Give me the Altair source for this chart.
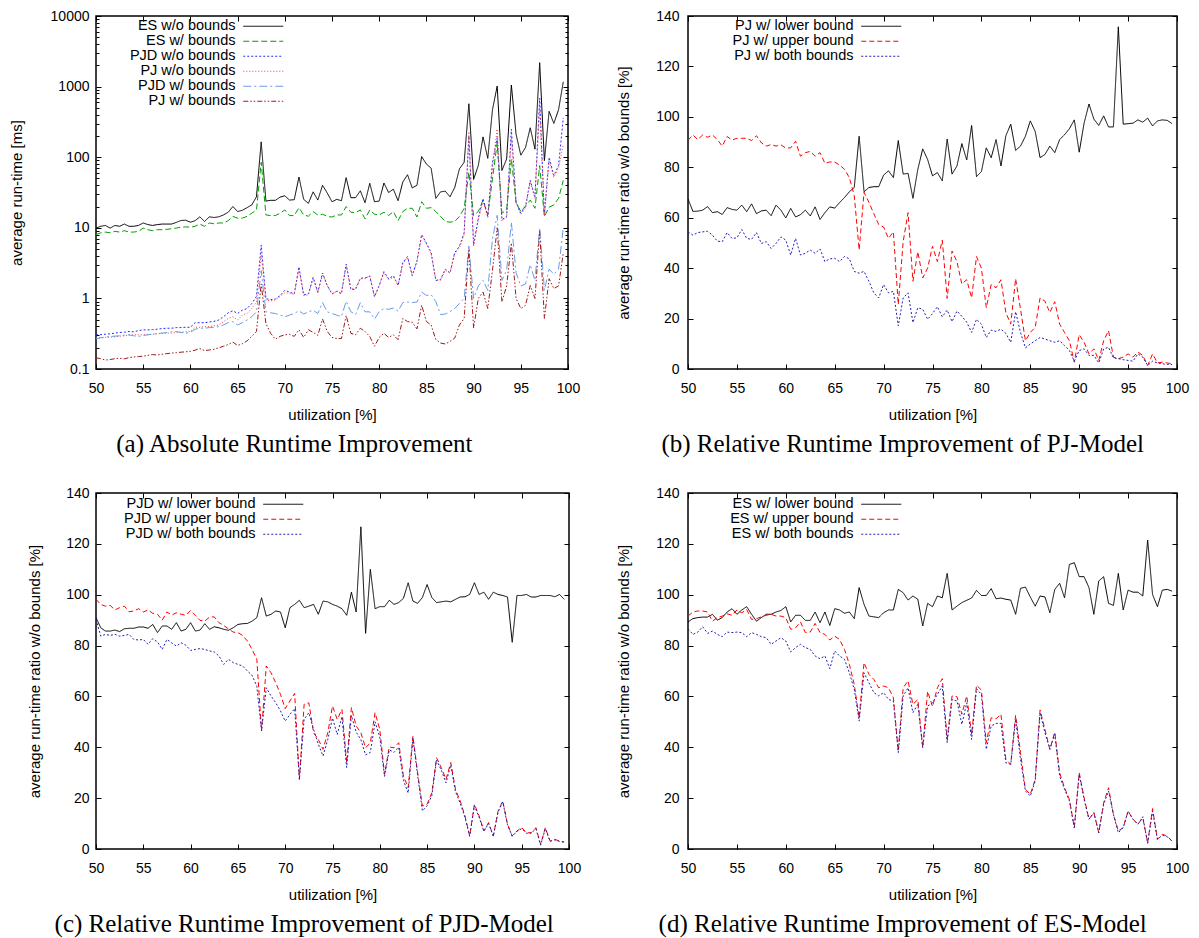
import altair as alt
import pandas as pd

UTIL = [50 + 0.5 * i for i in range(100)]
X_TICKS = [50, 55, 60, 65, 70, 75, 80, 85, 90, 95, 100]
Y_TICKS_LIN = [0, 20, 40, 60, 80, 100, 120, 140]
Y_MAJOR_LOG = [0.1, 1, 10, 100, 1000, 10000]
Y_ALL_LOG = [0.1, 0.2, 0.3, 0.4, 0.5, 0.6, 0.7, 0.8, 0.9,
             1, 2, 3, 4, 5, 6, 7, 8, 9,
             10, 20, 30, 40, 50, 60, 70, 80, 90,
             100, 200, 300, 400, 500, 600, 700, 800, 900,
             1000, 2000, 3000, 4000, 5000, 6000, 7000, 8000, 9000, 10000]

# ---------------- (a) absolute run-time [ms] ----------------
A_NAMES = ["ES w/o bounds", "ES w/ bounds", "PJD w/o bounds", "PJ w/o bounds",
           "PJD w/ bounds", "PJ w/ bounds"]
A_ES_WO = [9.9, 10.5, 10.8, 9.9, 10.8, 10.5, 11.3, 10.5, 10.5, 10.8,
           11.7, 11.1, 10.8, 11.1, 11.3, 11.3, 11.3, 11.9, 12.7, 12.8,
           12.0, 12.6, 14.3, 12.3, 14.3, 14.0, 14.3, 15.2, 16.6, 20.0,
           17.0, 17.7, 19.3, 21.1, 27.5, 165, 23.9, 24.5, 24.5, 27.2,
           28.4, 24.7, 25.0, 52.4, 25.3, 22.2, 32.3, 24.7, 40, 31,
           23.4, 25.3, 24.2, 51.3, 26.7, 26.7, 33.4, 22.7, 42.7, 23.4,
           23.9, 43.1, 31.6, 35.2, 24.2, 44.6, 56.4, 36.7, 40, 102,
           80, 70, 26.1, 32.3, 33, 27.5, 37.2, 68.4, 84.8, 571,
           48.5, 76.3, 194, 96.3, 471, 1018, 64.9, 94.4, 1052, 211,
           107, 137, 261, 130, 2182, 89.5, 446, 301, 471, 1172]
A_ES_W = [8.0, 8.5, 8.7, 8.5, 8.9, 8.7, 9.1, 8.7, 8.7, 8.9,
          9.9, 9.4, 9.1, 9.4, 9.4, 9.5, 9.7, 9.9, 10.2, 10.3,
          10.2, 10.5, 11.3, 10.5, 11.7, 11.4, 11.7, 11.7, 12.6, 14.5,
          13.7, 13.7, 14.5, 16.1, 17.9, 84.8, 15.2, 14.9, 14.9, 16.1,
          17.9, 14.9, 14.9, 19.3, 15.2, 14.6, 17.0, 15.2, 15.6, 14.5,
          14.2, 15.2, 15.2, 20.0, 16.6, 16.4, 17.9, 13.4, 17.9, 15.6,
          15.2, 16.6, 14.9, 17.0, 12.6, 17.0, 18.9, 18.9, 14.2, 23.4,
          18.9, 19.3, 17.0, 14.5, 12.3, 12.0, 12.3, 14.5, 18.9, 61.5,
          14.9, 17.0, 24.7, 15.2, 49.6, 161, 16.1, 17.9, 94.4, 22.7,
          17.0, 20.4, 24.7, 18.9, 76.3, 14.5, 19.6, 21.1, 26.1, 47]
A_PJD_WO = [0.305, 0.307, 0.311, 0.315, 0.322, 0.329, 0.332, 0.34, 0.336, 0.35,
            0.358, 0.358, 0.362, 0.366, 0.374, 0.378, 0.378, 0.386, 0.386, 0.39,
            0.39, 0.453, 0.453, 0.453, 0.463, 0.473, 0.494, 0.55, 0.625, 0.667,
            0.612, 0.681, 0.719, 0.844, 1.07, 5.69, 0.99, 0.96, 0.98, 1.10,
            1.30, 1.23, 1.16, 2.80, 1.12, 1.16, 1.99, 1.23, 2.29, 1.52,
            1.16, 1.26, 1.16, 3.06, 1.34, 1.34, 1.93, 1.95, 2.06, 1.05,
            1.52, 2.39, 1.89, 2.10, 1.52, 3.22, 3.91, 2.10, 3.40, 8.0,
            6.1, 4.45, 1.79, 1.85, 2.6, 2.29, 4.45, 5.5, 8.5, 200,
            5.7, 13.7, 26, 14.5, 84.8, 189, 13, 14.5, 250, 23.4,
            16.1, 20, 47, 27.5, 686, 15.2, 99.5, 55, 76, 360]
A_PJ_WO = [0.274, 0.277, 0.28, 0.283, 0.286, 0.292, 0.295, 0.302, 0.305, 0.305,
           0.305, 0.308, 0.311, 0.315, 0.318, 0.322, 0.322, 0.329, 0.332, 0.336,
           0.34, 0.39, 0.39, 0.398, 0.398, 0.41, 0.42, 0.468, 0.52, 0.55,
           0.494, 0.58, 0.612, 0.719, 0.89, 4.2, 0.94, 0.92, 0.95, 1.06,
           1.2, 1.18, 1.14, 2.6, 1.1, 1.12, 1.9, 1.2, 2.2, 1.5,
           1.15, 1.28, 1.2, 2.9, 1.38, 1.4, 1.9, 1.9, 2.1, 1.08,
           1.5, 2.3, 1.85, 2.0, 1.55, 3.1, 3.8, 2.1, 3.3, 7.8,
           5.9, 4.3, 1.85, 1.8, 2.5, 2.3, 4.3, 5.2, 8.0, 230,
           5.5, 13, 24, 14, 70, 250, 12.5, 14, 190, 22,
           15.5, 19, 45, 26, 500, 14.5, 90, 52, 70, 150]
A_PJD_W = [0.268, 0.277, 0.283, 0.289, 0.292, 0.295, 0.302, 0.305, 0.295, 0.289,
           0.298, 0.305, 0.311, 0.318, 0.322, 0.329, 0.336, 0.34, 0.329, 0.322,
           0.329, 0.366, 0.378, 0.378, 0.386, 0.39, 0.398, 0.42, 0.453, 0.468,
           0.42, 0.453, 0.494, 0.55, 0.645, 2.47, 0.645, 0.625, 0.612, 0.58,
           0.55, 0.58, 0.612, 0.667, 0.6, 0.646, 0.68, 0.61, 0.87, 0.646,
           0.61, 0.58, 0.55, 0.91, 0.646, 0.59, 0.87, 0.646, 0.646, 0.51,
           0.646, 0.72, 0.70, 0.73, 0.66, 0.87, 0.89, 0.87, 0.89, 1.23,
           1.10, 1.13, 0.9, 0.59, 0.6, 0.65, 0.72, 0.85, 1.0, 5.5,
           1.0, 1.5, 1.8, 1.3, 7, 15, 1.8, 2.5, 12, 2.3,
           1.5, 1.6, 3.0, 1.8, 10, 1.3, 2.6, 2.2, 2.6, 10]
A_PJ_W = [0.144, 0.14, 0.134, 0.136, 0.14, 0.142, 0.139, 0.145, 0.148, 0.15,
          0.152, 0.156, 0.16, 0.158, 0.162, 0.165, 0.168, 0.17, 0.173, 0.175,
          0.178, 0.185, 0.195, 0.182, 0.186, 0.19, 0.2, 0.21, 0.222, 0.24,
          0.215, 0.228, 0.25, 0.29, 0.34, 1.6, 0.44, 0.32, 0.265, 0.29,
          0.305, 0.31, 0.29, 0.36, 0.28, 0.36, 0.33, 0.3, 0.51, 0.34,
          0.28, 0.27, 0.27, 0.57, 0.32, 0.305, 0.378, 0.34, 0.289, 0.21,
          0.28, 0.32, 0.28, 0.305, 0.26, 0.52, 0.47, 0.46, 0.37, 0.80,
          0.47, 0.42, 0.26, 0.233, 0.226, 0.246, 0.274, 0.421, 0.52, 5.0,
          0.38, 1.0, 1.23, 0.72, 2.5, 10, 0.89, 1.5, 6.1, 1.0,
          0.72, 0.8, 1.52, 1.0, 8.9, 0.52, 1.9, 1.38, 1.5, 4.4]
A_COLORS = ["#000000", "#00a000", "#2a2aff", "#ff3b3b", "#6a9ae8", "#a01818"]
A_DASHES = [[1, 0], [6, 3], [2, 2], [1, 2], [8, 3, 2, 3], [5, 2, 1.5, 2, 1.5, 2]]

# ---------------- (b) PJ model ----------------
B_NAMES = ["PJ w/ lower bound", "PJ w/ upper bound", "PJ w/ both bounds"]
B_LOWER = [67.5, 62.5, 62.6, 63, 64.4, 62, 62.4, 61.3, 64, 63.3,
           63, 65, 62.4, 65.5, 61.6, 62.7, 63, 60.8, 65, 63,
           59.9, 63.7, 60.3, 61.2, 63, 60.7, 64.3, 59.3, 62, 64.3,
           63.8, 66, 68, 70.3, 72, 92.3, 70.3, 72, 72.3, 72.3,
           76.9, 78.6, 75.9, 90.6, 77.3, 77.6, 67.7, 79.2, 87.3, 83.1,
           76.6, 77.9, 74.6, 91.2, 77.3, 80.5, 89.4, 82.9, 96.6, 76.3,
           78.3, 87.7, 83.8, 91, 80.5, 92.5, 97.1, 86.7, 88.4, 92.3,
           98.4, 94.2, 83.8, 85.1, 88.4, 85.8, 91, 92.9, 95.3, 98.8,
           86, 97.5, 105.1, 99.1, 96.6, 100.4, 96, 96, 135.7, 97.1,
           97.3, 97.5, 98.8, 97.9, 99.5, 96.4, 98.4, 98.8, 98.6, 97.3]
B_UPPER = [90.7, 92.8, 91.0, 92.8, 91.9, 92.8, 91.0, 88.4, 92.2, 90.8,
           91.5, 91.5, 91.5, 90.6, 92.5, 89.7, 88.4, 89.0, 88.4, 88.9,
           87.6, 87.7, 90.3, 84.4, 85.8, 86.3, 84.4, 85.8, 81.6, 82.1,
           82.1, 80.9, 79.2, 75.9, 68.8, 47.2, 70.1, 66.1, 61.6, 57.3,
           56.3, 51.8, 54.4, 25.6, 50.5, 62.0, 34.8, 46.5, 36.1, 40.0,
           48.7, 42.6, 51.1, 28.0, 46.8, 42.6, 33.7, 35.4, 28.2, 44.6,
           40.0, 24.3, 33.5, 32.2, 35.4, 22.4, 17.8, 35.8, 23.7, 11.2,
           14.5, 16.5, 28.2, 26.9, 22.4, 26.7, 17.8, 14.5, 11.2, 2.7,
           13.6, 10.6, 6.0, 8.0, 3.4, 11.2, 15.2, 4.7, 4.1, 4.7,
           6.0, 4.7, 6.7, 5.4, 1.4, 6.0, 2.4, 2.7, 2.4, 2.1]
B_BOTH = [54.4, 53.1, 54.1, 54.4, 54.6, 53.1, 50.7, 50.5, 54.1, 51.8,
          52.0, 55.3, 51.8, 51.4, 54.1, 49.8, 50.5, 47.8, 49.8, 52.4,
          51.1, 45.2, 51.8, 45.2, 45.9, 47.2, 45.9, 47.6, 42.6, 43.7,
          43.9, 42.6, 44.6, 43.7, 38.7, 38.0, 38.7, 34.8, 30.2, 28.2,
          33.5, 30.2, 30.8, 17.1, 28.2, 30.2, 18.4, 24.3, 23.7, 19.7,
          22.0, 24.7, 20.7, 23.4, 18.8, 23.0, 20.9, 18.6, 14.5, 19.7,
          17.8, 12.5, 15.4, 14.9, 15.8, 14.1, 10.6, 22.7, 14.5, 8.4,
          9.9, 11.2, 12.5, 11.9, 11.2, 10.6, 11.2, 9.3, 7.3, 3.1,
          7.3, 8.0, 5.4, 5.4, 2.4, 8.0, 8.6, 4.4, 4.1, 3.7,
          3.4, 3.1, 6.0, 4.7, 1.4, 3.1, 2.4, 2.1, 1.8, 1.8]

# ---------------- (c) PJD model ----------------
C_NAMES = ["PJD w/ lower bound", "PJD w/ upper bound", "PJD w/ both bounds"]
C_LOWER = [91, 87, 85.7, 85.7, 86.1, 85.5, 86.6, 86.8, 86.8, 87.3,
           87.3, 86.8, 88.3, 85.1, 87.7, 87.7, 86.4, 89, 85.7, 86.4,
           89, 85.7, 86.1, 88.6, 86.4, 87.4, 87.0, 86.4, 86.0, 87.0,
           88.3, 88.6, 88.7, 89.6, 91, 98.8, 91.6, 92.3, 93.6, 93.2,
           87, 94.9, 96.2, 97.8, 94.9, 95.5, 96.2, 92.3, 97.5, 97.2,
           96.2, 95.5, 94.5, 91.9, 101, 93.2, 126.7, 84.8, 110, 94.5,
           95.3, 95.3, 97.8, 96.2, 96.9, 98.6, 104.7, 97.5, 96.6, 98.9,
           104, 98.9, 96.9, 97.2, 97.5, 97.2, 98.2, 99.1, 99.2, 100.1,
           104.7, 100.1, 101, 98.2, 101, 100.1, 99.7, 99.1, 81.3, 99.7,
           99.7, 100.1, 99.1, 99.1, 99.7, 99.7, 99.7, 99.2, 100.1, 98.2]
C_UPPER = [98.2, 96.2, 95.5, 95.8, 94, 94.9, 95.5, 93.3, 93.6, 94.5,
           93.2, 94, 92.7, 92.3, 90, 93.2, 92, 92.9, 92.3, 91.9,
           93.8, 91.9, 89.9, 89.6, 91.2, 91.3, 89, 87.9, 86.6, 85.3,
           85.1, 84, 81.8, 78.5, 74.6, 46.4, 72, 69.3, 65.4, 60.8,
           55.2, 58.2, 61.2, 27.4, 56.9, 57.5, 45.7, 43.1, 39.2, 45.7,
           56.2, 51, 54.9, 34, 55.6, 48.4, 45.7, 39.8, 41.8, 53.6,
           47, 29.4, 40.1, 39.8, 41.8, 28.7, 24.1, 44.4, 30, 16.9,
           17.6, 22.1, 35.9, 32, 27.4, 34, 23.5, 18.9, 13, 5.1,
           17.6, 13, 7.1, 10.4, 5.1, 14.9, 18.9, 9.7, 5.1, 7.1,
           8.4, 6.4, 6.4, 8.4, 1.8, 8.4, 3.1, 3.8, 3.1, 2.8]
C_BOTH = [90.3, 83.7, 84.4, 84, 84.4, 83.7, 84, 84.4, 82.4, 82.2,
          82.4, 80.5, 82.7, 81.4, 78.5, 82.4, 81.1, 79.8, 81.1, 80.1,
          78.1, 78.5, 78.8, 78.5, 77.9, 77.5, 75.9, 72.6, 74.6, 73.3,
          72.6, 72, 70, 68.3, 64, 46.4, 63.4, 60.2, 57.5, 54.3,
          50.3, 52.9, 55.2, 27.4, 51, 53.6, 47, 41.2, 36.6, 43.1,
          51.5, 45, 52, 32, 52.5, 46, 43, 37, 38, 50,
          44, 28.5, 39, 38, 40, 27, 22, 43.5, 29, 15,
          17, 21, 35, 31, 26, 33, 22.5, 18, 12.5, 5,
          17, 12.5, 7, 10, 5, 14.5, 18.5, 9.5, 5, 7,
          8, 6.2, 6.2, 8, 1.5, 8, 3, 3.6, 3, 2.6]

# ---------------- (d) ES model ----------------
D_NAMES = ["ES w/ lower bound", "ES w/ upper bound", "ES w/ both bounds"]
D_LOWER = [89.3, 90.6, 91, 91.2, 91.2, 92.3, 90, 91, 93.2, 94.5,
           92.3, 94, 95.3, 92.3, 89.6, 91, 92.3, 92.3, 93.2, 93.8,
           95.3, 89.3, 91.9, 91.9, 89.9, 89.9, 93.2, 89, 93.2, 87.9,
           94.5, 94, 92.7, 93.2, 90.6, 102.8, 96.2, 91.6, 91.3, 91,
           92.9, 94, 94, 102.1, 100.8, 97.9, 99.5, 98.2, 87.7, 96.6,
           95.3, 99.5, 98.8, 108.4, 94, 95.5, 96.9, 97.8, 98.7, 101.7,
           99.7, 99.7, 102.4, 98.4, 98.7, 98.2, 97.9, 92.3, 102.5, 103,
           99.1, 95.5, 99.5, 99.1, 92.9, 102.1, 104.5, 98.8, 111.9, 112.6,
           107.1, 107.1, 102.8, 92.3, 105.4, 107.1, 96.6, 95.8, 108.4, 94,
           101.8, 101, 101, 99.5, 121.5, 100.1, 95.3, 101.8, 102.1, 101.4]
D_UPPER = [91.6, 93.2, 93.6, 93.6, 93.2, 89.6, 91, 91.6, 92.5, 91.9,
           94, 92.9, 94.2, 90.3, 90.6, 91.3, 91.9, 92.3, 91.6, 91.6,
           91, 86.4, 87, 89.3, 85.1, 85.3, 88.7, 85.1, 84.4, 82.2,
           83.7, 82.4, 78.5, 72.6, 64.7, 51.6, 73.3, 68.7, 66.7, 63.4,
           64.1, 63.4, 59.5, 38.5, 63.4, 66.1, 56.9, 58.8, 40, 62,
           56, 63.4, 67, 43.1, 60.2, 59.9, 53, 60.2, 45.1, 64.4,
           62.5, 41.8, 51.6, 51.2, 53, 35.3, 33.3, 52.6, 37.9, 23.5,
           21.5, 27.4, 54.7, 47, 39.2, 46, 30, 24.1, 19.5, 8.4,
           30, 20.2, 11.7, 14.3, 6.4, 18.2, 24.1, 13.6, 7.1, 8.4,
           14.9, 11.7, 9.7, 12.3, 2.5, 15.9, 3.8, 5.8, 5.1, 3.1]
D_BOTH = [86.6, 84.4, 85.3, 87.4, 84.8, 85.7, 84.4, 83.5, 85.3, 85.1,
          85.3, 85.1, 83.5, 85.1, 84.4, 83.5, 83.1, 80.5, 81.8, 83.1,
          81.8, 77.5, 79.2, 80.5, 79.2, 78.5, 75.9, 74.8, 75.9, 70.9,
          77.9, 75.9, 74.6, 69.3, 62.8, 50.3, 69.3, 65.4, 61.5, 60.2,
          61.5, 58.8, 58.2, 37.9, 60.2, 63.4, 53.6, 56.9, 39.8, 56.2,
          57.5, 60.8, 64.1, 41.8, 58.8, 58.2, 49, 57.5, 43.1, 63,
          60.8, 39.2, 48.4, 49.4, 49.4, 33.9, 33.3, 51, 35.3, 22.8,
          20.8, 26.7, 53.6, 45.7, 39.2, 45.1, 28.7, 23.5, 18.9, 8.4,
          29.4, 19.5, 11.7, 14.3, 6.4, 17.6, 22.8, 13.6, 6.4, 8.4,
          14.9, 11.7, 9.7, 12.7, 2.2, 14.9, 3.8, 5.4, 4.8, 3.1]

REL_COLORS = ["#000000", "#ff0000", "#2020b0"]
REL_DASHES = [[1, 0], [5, 3], [2, 2]]

FONT = "Liberation Sans"
TICK_LEN = 5


def frame(names, series):
    rows = []
    for name, vals in zip(names, series):
        for u, v in zip(UTIL, vals):
            rows.append({"u": u, "v": v, "series": name})
    return pd.DataFrame(rows)


def panel(df, names, colors, dashes, log, y_title, caption, width, height,
          leg_x, leg_y, title_pad, label_pad):
    xs = alt.Scale(domain=[50, 100], nice=False, zero=False)
    if log:
        ys = alt.Scale(type="log", domain=[0.1, 10000], nice=False)
        y_major, y_all, fmt = Y_MAJOR_LOG, Y_ALL_LOG, "~g"
        tsize = {"condition": {"test": "abs(log(datum.value)/LN10 - round(log(datum.value)/LN10)) < 0.001",
                               "value": TICK_LEN}, "value": 3}
    else:
        ys = alt.Scale(domain=[0, 140], nice=False, zero=False)
        y_major, y_all, fmt = Y_TICKS_LIN, Y_TICKS_LIN, "d"
        tsize = TICK_LEN

    # a 40px-long horizontal stroke as legend sample, labels placed to its left
    leg = alt.Legend(orient="none", legendX=leg_x, legendY=leg_y, title=None,
                     symbolType="M-4,0H4", symbolSize=100, symbolStrokeWidth=1,
                     rowPadding=0, padding=0, labelLimit=400,
                     labelFont=FONT, labelFontSize=14.5, labelColor="black",
                     labelAlign="right", labelOffset={"expr": "-35"})

    base = alt.Chart(df)
    lines = base.mark_line(strokeWidth=1, clip=True).encode(
        x=alt.X("u:Q", scale=xs,
                axis=alt.Axis(orient="bottom", values=X_TICKS, ticks=False, domain=False,
                              grid=False, labelPadding=12, labelFlush=False,
                              title="utilization [%]", titlePadding=12, format="d")),
        y=alt.Y("v:Q", scale=ys,
                axis=alt.Axis(orient="left", values=y_major, ticks=False, domain=False,
                              grid=False, labelPadding=label_pad, labelFlush=False,
                              format=fmt, title=y_title, titlePadding=title_pad)),
        color=alt.Color("series:N", scale=alt.Scale(domain=names, range=colors), legend=leg),
        strokeDash=alt.StrokeDash("series:N", scale=alt.Scale(domain=names, range=dashes), legend=leg),
    )
    t1 = base.mark_point(opacity=0).encode(
        x=alt.X("u:Q", scale=xs,
                axis=alt.Axis(orient="top", offset=-height, values=X_TICKS, labels=False,
                              domain=False, grid=False, tickSize=TICK_LEN, title=None)),
        y=alt.Y("v:Q", scale=ys,
                axis=alt.Axis(orient="right", offset=-width, values=y_all, labels=False,
                              domain=False, grid=False, tickSize=tsize, title=None)),
    )
    t2 = base.mark_point(opacity=0).encode(
        x=alt.X("u:Q", scale=xs,
                axis=alt.Axis(orient="bottom", offset=-height, values=X_TICKS, labels=False,
                              domain=False, grid=False, tickSize=TICK_LEN, title=None)),
        y=alt.Y("v:Q", scale=ys,
                axis=alt.Axis(orient="left", offset=-width, values=y_all, labels=False,
                              domain=False, grid=False, tickSize=tsize, title=None)),
    )
    return alt.layer(lines, t1, t2).resolve_axis(x="independent", y="independent").properties(
        width=width, height=height,
        title=alt.TitleParams(caption, orient="bottom", anchor="middle", frame="bounds",
                              offset=10, font="Liberation Serif", fontSize=25,
                              fontWeight="normal", color="black"))


df_a = frame(A_NAMES, [A_ES_WO, A_ES_W, A_PJD_WO, A_PJ_WO, A_PJD_W, A_PJ_W])
df_b = frame(B_NAMES, [B_LOWER, B_UPPER, B_BOTH])
df_c = frame(C_NAMES, [C_LOWER, C_UPPER, C_BOTH])
df_d = frame(D_NAMES, [D_LOWER, D_UPPER, D_BOTH])

REL_TITLE = "average run-time ratio w/o bounds [%]"
pa = panel(df_a, A_NAMES, A_COLORS, A_DASHES, True, "average run-time [ms]",
           "(a) Absolute Runtime Improvement", 472, 353, 160, 3, 26, 7)
pb = panel(df_b, B_NAMES, REL_COLORS, REL_DASHES, False, REL_TITLE,
           "(b) Relative Runtime Improvement of PJ-Model", 489, 353, 186, 3, 24, 9)
pc = panel(df_c, C_NAMES, REL_COLORS, REL_DASHES, False, REL_TITLE,
           "(c) Relative Runtime Improvement of PJD-Model", 473, 356, 180, 4, 23, 7)
pd_ = panel(df_d, D_NAMES, REL_COLORS, REL_DASHES, False, REL_TITLE,
            "(d) Relative Runtime Improvement of ES-Model", 489, 356, 186, 4, 24, 9)

chart = alt.concat(pa, pb, pc, pd_, columns=2,
                   spacing={"row": 27, "column": 33}).resolve_scale(
    color="independent", strokeDash="independent"
).properties(
    padding={"left": 0, "top": 0, "right": 0, "bottom": 0}
).configure_view(
    stroke="black", strokeWidth=1.5
).configure_axis(
    labelFont=FONT, labelFontSize=14, labelColor="black",
    titleFont=FONT, titleFontSize=15, titleFontWeight="normal", titleColor="black",
    tickColor="black", tickWidth=1
)

chart.save("out.html", embed_options={"renderer": "svg", "actions": False})
